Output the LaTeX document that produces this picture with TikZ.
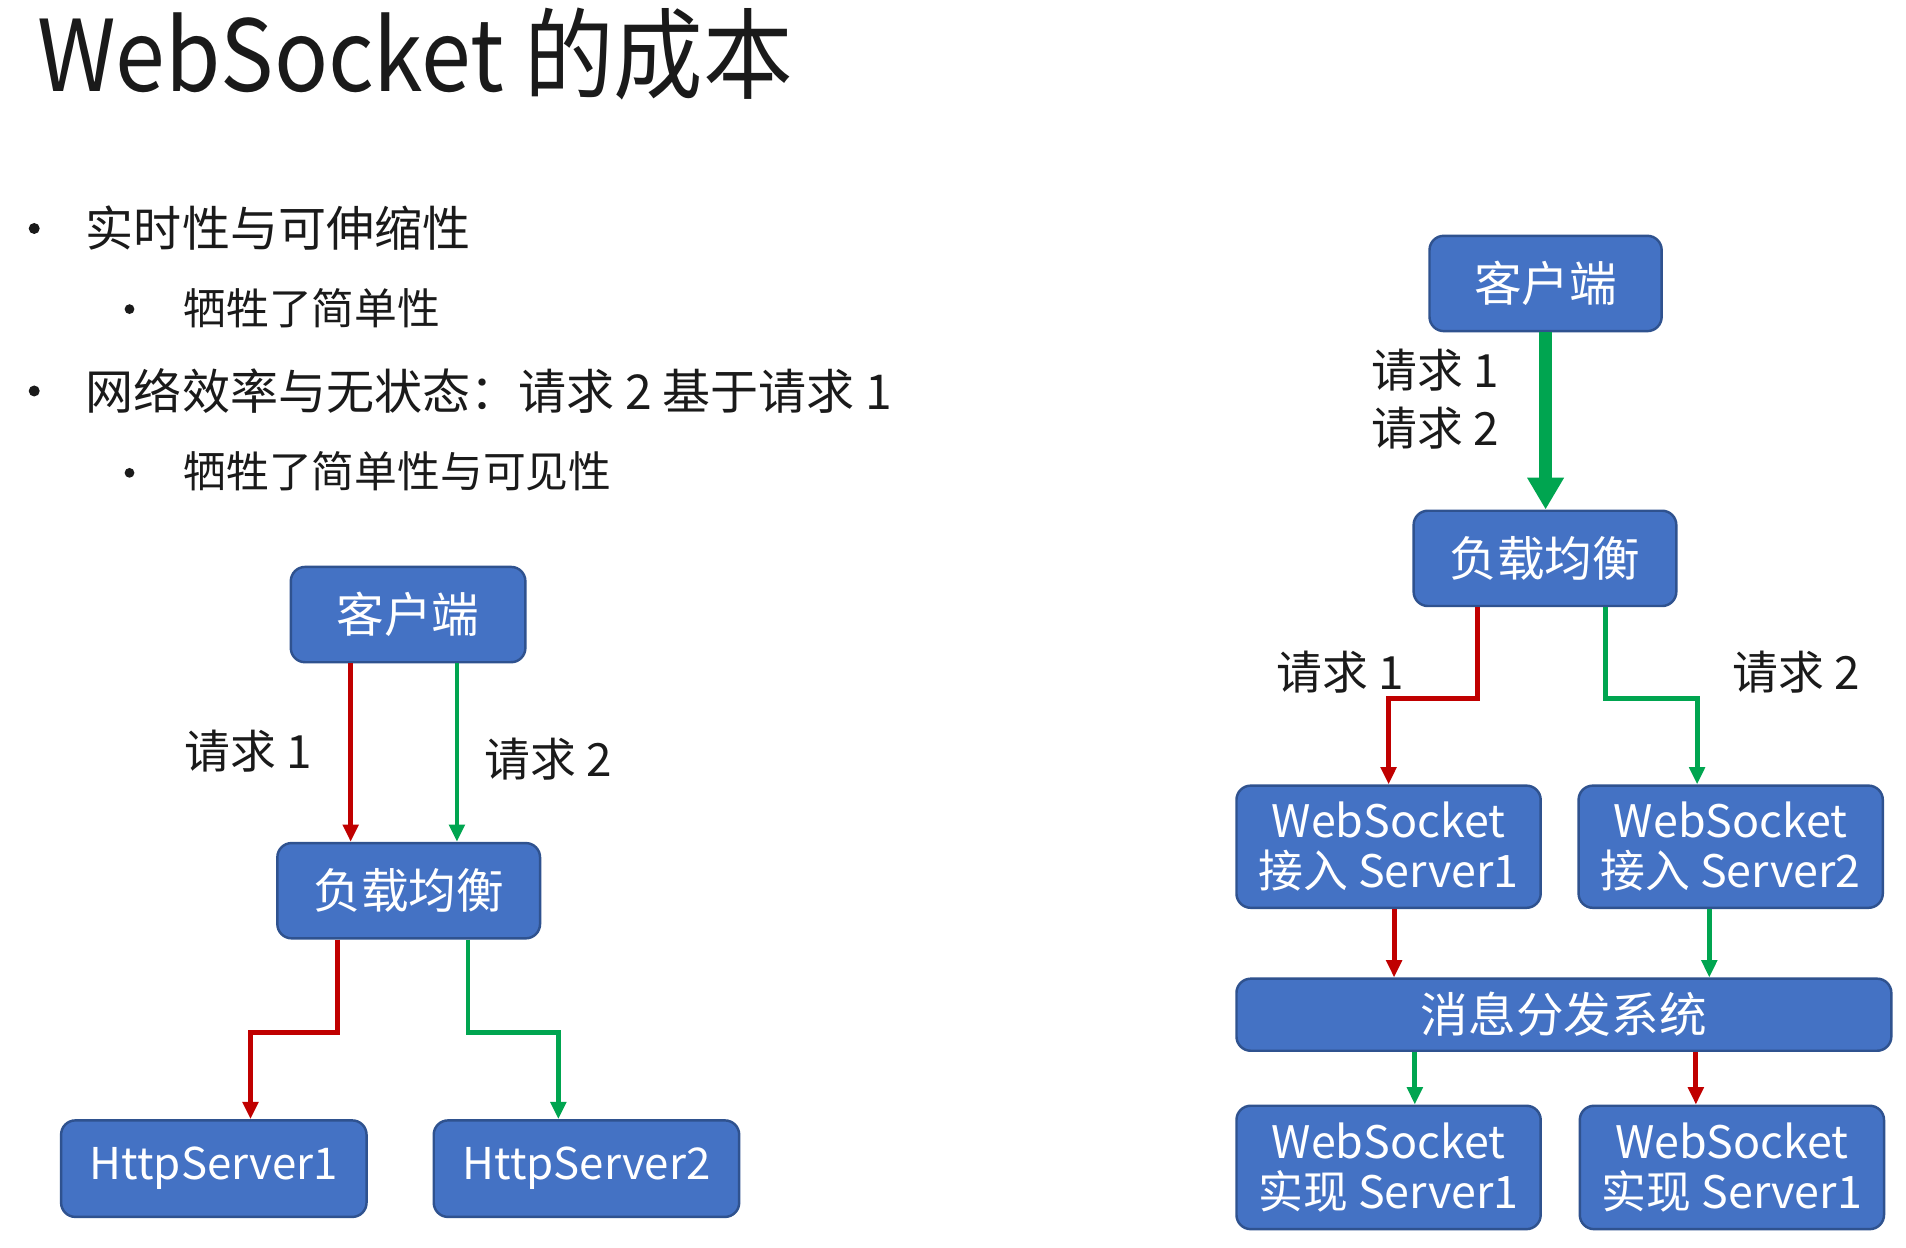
\documentclass[tikz,border=0pt]{standalone}
\usepackage{fontspec}
\setmainfont{Noto Sans CJK SC}
\usetikzlibrary{arrows.meta}
\definecolor{boxfill}{HTML}{4472C4}
\definecolor{boxline}{HTML}{2F528F}
\definecolor{rarrow}{HTML}{C00000}
\definecolor{garrow}{HTML}{00A550}
\definecolor{txt}{HTML}{1A1A1A}
\tikzset{
  box/.style={draw=boxline, line width=1.2pt, fill=boxfill, rounded corners=7pt,
    text=white, align=center, inner sep=0pt, font=\fontsize{23.4}{24.6}\selectfont},
  boxtwo/.style={box, font=\fontsize{22}{24.6}\selectfont},
  boxlat/.style={box, font=\fontsize{21.5}{24.6}\selectfont},
  rarr/.style={draw=rarrow, line width=2.4pt, -{Triangle[width=7.5pt,length=8.5pt]}},
  garr/.style={draw=garrow, line width=2.4pt, -{Triangle[width=7.5pt,length=8.5pt]}},
  gbig/.style={draw=garrow, line width=6pt, -{Triangle[width=17pt,length=15.6pt]}},
  lbl/.style={inner sep=0pt, text=txt, font=\fontsize{22.5}{27}\selectfont},
  bul/.style={inner sep=0pt, anchor=west, text=txt},
}
\begin{document}
\begin{tikzpicture}[x=0.6pt,y=-0.6pt]
\useasboundingbox (0,0) rectangle (1560,1021);
\fill[white] (0,0) rectangle (1560,1021);

% title and bullets
\node[inner sep=0pt, anchor=base west, text=txt, transform shape, xscale=0.905,
  font=\fontsize{48.6}{58}\selectfont] (title) at (30,75) {WebSocket 的成本};
\fill[txt] (28,187) circle[radius=2.7pt];
\node[bul, font=\fontsize{23.6}{28}\selectfont] (b1) at (70,187) {实时性与可伸缩性};
\fill[txt] (106,253) circle[radius=2.4pt];
\node[bul, font=\fontsize{21}{25}\selectfont] (b1a) at (150,252) {牺牲了简单性};
\fill[txt] (28,320) circle[radius=2.7pt];
\node[bul, font=\fontsize{23.6}{28}\selectfont] (b2) at (70,320) {网络效率与无状态：请求 2 基于请求 1};
\fill[txt] (106,387) circle[radius=2.4pt];
\node[bul, font=\fontsize{21}{25}\selectfont] (b2a) at (150,386) {牺牲了简单性与可见性};

% left diagram
\node[box, minimum width=115.2pt, minimum height=46.8pt] (lc) at (334,503) {客户端};
\node[box, minimum width=129pt, minimum height=46.8pt] (llb) at (334.5,729) {负载均衡};
\node[boxlat, minimum width=150pt, minimum height=47.4pt] (lh1) at (175,956.5) {HttpServer1};
\node[boxlat, minimum width=150pt, minimum height=47.4pt] (lh2) at (480,956.5) {HttpServer2};
\coordinate (lmid) at (0,845);

\draw[rarr] ([xshift=-28.2pt]lc.south) -- ([xshift=-28.2pt]lc.south |- llb.north);
\draw[garr] ([xshift=24pt]lc.south) -- ([xshift=24pt]lc.south |- llb.north);
\draw[rarr] ([xshift=-35.1pt]llb.south) -- ([xshift=-35.1pt]llb.south |- lmid) -| ([xshift=18pt]lh1.north);
\draw[garr] ([xshift=29.1pt]llb.south) -- ([xshift=29.1pt]llb.south |- lmid) -| ([xshift=-13.8pt]lh2.north);
\node[lbl] (lq1) at (203,615) {请求 1};
\node[lbl] (lq2) at (449,621) {请求 2};

% right diagram
\node[box, minimum width=114pt, minimum height=46.8pt] (rc) at (1265,232) {客户端};
\node[box, minimum width=129pt, minimum height=46.8pt] (rlb) at (1264.5,457) {负载均衡};
\node[boxtwo, minimum width=149.4pt, minimum height=60pt] (ra1) at (1136.5,693) {WebSocket\\接入 Server1};
\node[boxtwo, minimum width=149.4pt, minimum height=60pt] (ra2) at (1416.5,693) {WebSocket\\接入 Server2};
\node[box, minimum width=321.6pt, minimum height=35.4pt] (rm) at (1280,830.5) {消息分发系统};
\node[boxtwo, minimum width=149.4pt, minimum height=60.6pt] (ri1) at (1136.5,955.5) {WebSocket\\实现 Server1};
\node[boxtwo, minimum width=149.4pt, minimum height=60.6pt] (ri2) at (1417.5,955.5) {WebSocket\\实现 Server1};
\coordinate (rmid) at (0,572);

\draw[gbig] (rc.south) -- (rc.south |- rlb.north);
\node[lbl, anchor=west] (rq1) at (1122,303) {请求 1};
\node[lbl, anchor=west] (rq2) at (1122,350) {请求 2};

\draw[rarr] ([xshift=-33.3pt]rlb.south) -- ([xshift=-33.3pt]rlb.south |- rmid) -| (ra1.north);
\draw[garr] ([xshift=29.7pt]rlb.south) -- ([xshift=29.7pt]rlb.south |- rmid) -| ([xshift=-16.5pt]ra2.north);
\node[lbl] (rq3) at (1097,550) {请求 1};
\node[lbl] (rq4) at (1470,550) {请求 2};

\draw[rarr] ([xshift=2.7pt]ra1.south) -- ([xshift=2.7pt]ra1.south |- rm.north);
\draw[garr] ([xshift=-10.5pt]ra2.south) -- ([xshift=-10.5pt]ra2.south |- rm.north);
\draw[garr] ([xshift=12.9pt]ri1.north |- rm.south) -- ([xshift=12.9pt]ri1.north);
\draw[rarr] ([xshift=-17.7pt]ri2.north |- rm.south) -- ([xshift=-17.7pt]ri2.north);
\end{tikzpicture}
\end{document}
